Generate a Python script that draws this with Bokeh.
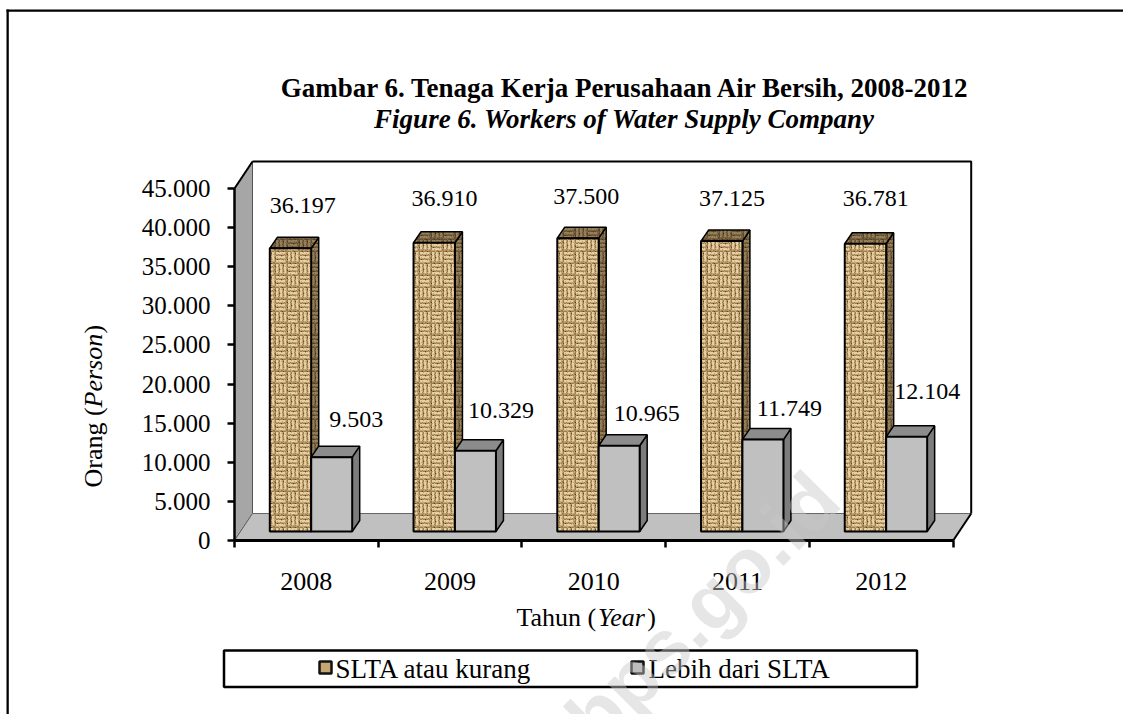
import base64, struct, zlib
from bokeh.embed import file_html
from bokeh.resources import INLINE
from bokeh.plotting import figure
from bokeh.core.properties import value
from bokeh.models import (BoxAnnotation, ColumnDataSource, FixedTicker, ImageURLTexture,
                          Label, LinearAxis, Range1d)

# ---- data ----
years = ["2008", "2009", "2010", "2011", "2012"]
slta = [36197, 36910, 37500, 37125, 36781]
lebih = [9503, 10329, 10965, 11749, 12104]
y_ticks = [0, 5000, 10000, 15000, 20000, 25000, 30000, 35000, 40000, 45000]
y_tick_labels = ["0", "5.000", "10.000", "15.000", "20.000", "25.000", "30.000", "35.000", "40.000", "45.000"]
series_names = ["SLTA atau kurang", "Lebih dari SLTA"]

# ---- layout constants (pixels of the page) ----
W, H = 1123, 714
X0, Y0 = 234, 540          # axis origin
SLOT = 143.74              # pixels per category
UNIT = 352 / 45000         # pixels per person
WALL_DX, WALL_DY = 18, 27
BAR_DX, BAR_DY = 7.5, 11
BAR_BASE = 531
BAR_L, BAR_M, BAR_R = 35.3, 76.7, 117.7  # offsets in a slot

def X(px): return (px - X0) / SLOT
def Y(py): return (Y0 - py) / UNIT

SERIF = "Liberation Serif"
FS = "24px"
FS_AXIS = "26px"

def png_uri(rows, palette):
    h, w = len(rows), len(rows[0])
    raw = b""
    for r in rows:
        raw += b"\x00" + b"".join(bytes(palette[c]) for c in r)
    def chunk(t, d):
        return struct.pack(">I", len(d)) + t + d + struct.pack(">I", zlib.crc32(t + d) & 0xffffffff)
    png = (b"\x89PNG\r\n\x1a\n" + chunk(b"IHDR", struct.pack(">IIBBBBB", w, h, 8, 2, 0, 0, 0))
           + chunk(b"IDAT", zlib.compress(raw)) + chunk(b"IEND", b""))
    return "data:image/png;base64," + base64.b64encode(png).decode()

HB = ["LLLMLLLLLMMD",
      "LLLLLLMLLMDD",
      "MMDMMMMMDMDK",
      "DDMDDKDDMDMD",
      "LLLLLMLLLMMD",
      "LMLLLLLLLMDD",
      "MMMMDMMMMMDD",
      "DKDDMDDDMDMK",
      "LLLLLLLMLMMD",
      "LLMLLLLLLMDD",
      "MMMMMDMMMMDD",
      "DDDMDDKDDDMD"]
VB = ["".join(r[i] for r in HB) for i in range(12)]
WEAVE = [a + b for a, b in zip(HB, VB)] + [b + a for a, b in zip(HB, VB)]
burlap = ImageURLTexture(url=png_uri(WEAVE, {"L": (228, 208, 162), "M": (196, 166, 116), "D": (156, 124, 80), "K": (96, 68, 36)}))
burlap_dark = ImageURLTexture(url=png_uri(WEAVE, {"L": (150, 128, 88), "M": (125, 102, 68), "D": (98, 78, 50), "K": (70, 54, 32)}))

p = figure(width=W, height=H, output_backend="svg", toolbar_location=None,
           x_range=Range1d(X(0), X(W)), y_range=Range1d(Y(H), Y(0)),
           min_border=0,
           x_axis_type=None, y_axis_type=None, outline_line_color=None,
           background_fill_color="white", border_fill_color="white")
p.grid.visible = False

# ---- axes ----
yax = LinearAxis(ticker=FixedTicker(ticks=y_ticks), bounds=(0, 45000), fixed_location=0,
                 major_label_overrides={t: s for t, s in zip(y_ticks, y_tick_labels)},
                 major_label_text_font=SERIF, major_label_text_font_size="25px", major_label_text_color="black",
                 major_tick_in=0, major_tick_out=7, major_tick_line_width=2.5, major_tick_line_color="black",
                 minor_tick_line_color=None, axis_line_width=2.5, axis_line_color="black",
                 major_label_standoff=17)
p.add_layout(yax, "left")
centres = [i + 0.5 for i in range(len(years))]
xax = LinearAxis(ticker=FixedTicker(ticks=centres, minor_ticks=list(range(len(years) + 1))),
                 bounds=(0, len(years)), fixed_location=0,
                 major_label_overrides={c: y for c, y in zip(centres, years)},
                 major_label_text_font=SERIF, major_label_text_font_size=FS_AXIS, major_label_text_color="black",
                 major_tick_line_color=None, major_tick_in=0, major_tick_out=0,
                 minor_tick_in=0, minor_tick_out=7, minor_tick_line_width=2.5, minor_tick_line_color="black",
                 axis_line_width=3, axis_line_color="black", major_label_standoff=25)
p.add_layout(xax, "below")

# ---- walls and floor ----
n = len(years)
wx = WALL_DX / SLOT
wy = WALL_DY / UNIT
p.patch([0, wx, wx, 0], [0, wy, 45000 + wy, 45000], fill_color="#a6a6a6", line_color="#555555", line_width=1)
p.line([wx, n + wx, n + wx], [45000 + wy, 45000 + wy, wy], line_color="black", line_width=2)
p.patch([0, n, n + wx, wx], [0, 0, wy, wy], fill_color="#c0c0c0", line_color="#666666", line_width=1)
p.line([n, n + wx], [0, wy], line_color="black", line_width=2)
p.line([0, wx], [45000, 45000 + wy], line_color="black", line_width=2)

# ---- bars ----
bx = BAR_DX / SLOT
by = BAR_DY / UNIT
base = (Y0 - BAR_BASE) / UNIT

def bars(values, lo, hi, top_kw, side_kw, front_kw):
    l = [i + lo / SLOT for i in range(n)]
    r = [i + hi / SLOT for i in range(n)]
    t = [base + v for v in values]
    p.patches([[a + bx, a + bx, a, a] for a in r],
              [[base + by, b + by, b, base] for b in t], line_color="black", line_width=1.5, **side_kw)
    p.patches([[a, a + bx, c + bx, c] for a, c in zip(l, r)],
              [[b, b + by, b + by, b] for b in t], line_color="black", line_width=1.5, **top_kw)
    p.quad(left=l, right=r, top=t, bottom=base, line_color="black", line_width=2, **front_kw)
    return l, r, t

bars(slta, BAR_L, BAR_M,
     dict(fill_color="#7f6a45", hatch_pattern=value("burlapd"), hatch_extra={"burlapd": burlap_dark}, hatch_alpha=1.0),
     dict(fill_color="#7f6a45", hatch_pattern=value("burlapd"), hatch_extra={"burlapd": burlap_dark}, hatch_alpha=1.0),
     dict(fill_color="#cfb27c", hatch_pattern=value("burlap"), hatch_extra={"burlap": burlap}, hatch_alpha=1.0))
bars(lebih, BAR_M, BAR_R,
     dict(fill_color="#8c8c8c"), dict(fill_color="#7c7c7c"), dict(fill_color="#c0c0c0"))

# ---- value labels (offsets are label placement in pixels) ----
slta_dx = [33, 31, 29, 31, 31]
slta_dy = [-43, -44, -42, -43, -45]
lebih_dx = [45, 46, 48, 47, 41]
lebih_dy = [-38, -40, -32, -31, -45]
for vals, lo, dxs, dys in ((slta, BAR_L, slta_dx, slta_dy), (lebih, BAR_M, lebih_dx, lebih_dy)):
    src = ColumnDataSource(dict(
        x=[i + lo / SLOT for i in range(n)],
        y=[base + v for v in vals],
        t=[f"{v:,}".replace(",", ".") for v in vals],
        dx=dxs, dy=dys))
    p.text(x="x", y="y", text="t", source=src, x_offset="dx", y_offset="dy",
           text_font=value(SERIF), text_font_size=value(FS), text_color="black",
           text_align="center", text_baseline="middle")

# ---- texts ----
def label(px, py, text, size=FS, style="normal", align="center", angle=0, color="black", alpha=1.0, font=SERIF):
    p.add_layout(Label(x=X(px), y=Y(py), text=text, text_font=font, text_font_size=size,
                       text_font_style=style, text_align=align, text_baseline="middle",
                       text_color=color, text_alpha=alpha, angle=angle, angle_units="deg"))

label(625, 87, "Gambar 6. Tenaga Kerja Perusahaan Air Bersih, 2008-2012", size="27px", style="bold")
label(624, 118, "Figure 6. Workers of Water Supply Company", size="27px", style="bold italic")

label(516, 617, "Tahun (", size=FS_AXIS, align="left")
label(597.6, 617, "Year", size=FS_AXIS, style="italic", align="left")
label(646.7, 617, ")", size=FS_AXIS, align="left")

label(93, 487, "Orang (", size=FS_AXIS, align="left", angle=90)
label(93, 407, "Person", size=FS_AXIS, style="italic", align="left", angle=90)
label(93, 333, ")", size=FS_AXIS, align="left", angle=90)

# ---- outer frame lines ----
def box(**kw):
    p.add_layout(BoxAnnotation(**kw))

box(left=X(6), right=X(8.3), top=Y(9), bottom=Y(H), fill_color="black", fill_alpha=1, line_color=None)
box(left=X(6), right=X(W), top=Y(9), bottom=Y(11.3), fill_color="black", fill_alpha=1, line_color=None)

# ---- legend ----
box(left=X(223.5), right=X(916.5), top=Y(650), bottom=Y(686.5), fill_color="white", fill_alpha=1,
    line_color="black", line_alpha=1, line_width=2.5)
for sx, col in ((319, "#c4a673"), (631, "#b5b5b5")):
    box(left=X(sx), right=X(sx + 12), top=Y(661), bottom=Y(673), fill_color=col, fill_alpha=1,
        line_color="#111111", line_alpha=1, line_width=2.5)
label(335, 668, series_names[0], size="27px", align="left")
label(648, 668, series_names[1], size="27px", align="left")

# ---- watermark ----
label(702, 608, "bps.go.id", size="78px", style="bold", angle=45, color="#c8c8c8", alpha=0.45, font="Liberation Sans")

open("out.html", "w").write(file_html(p, INLINE))
